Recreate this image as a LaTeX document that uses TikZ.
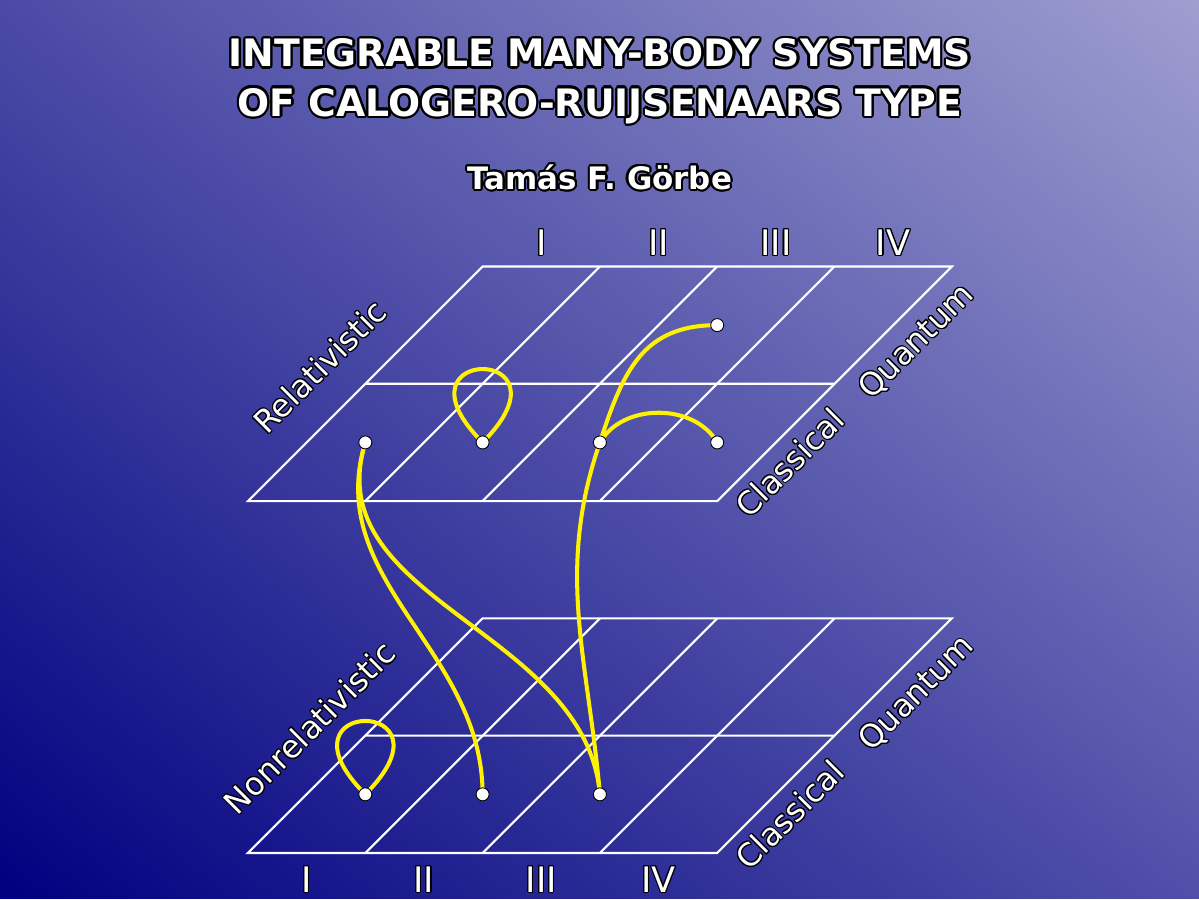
\documentclass[tikz,border=0pt]{standalone}
\usepackage{fontspec}
\setsansfont{DejaVu Sans}
\usepackage[copies]{contour}
\contourlength{0.6pt}
\usetikzlibrary{calc,shadings}

\definecolor{bgnavy}{RGB}{0,0,128}
\definecolor{bglav}{RGB}{158,158,208}
\definecolor{bgtl}{RGB}{75,75,166}
\definecolor{bgbr}{RGB}{80,80,170}

\tikzset{
  gridline/.style={white, line width=1.2pt},
  link/.style={yellow, line width=2.3pt},
  dot/.style={circle, draw=black, fill=white, line width=0.5pt, inner sep=0pt, minimum size=0.26cm},
  lbl/.style={text=white, font=\sffamily\fontsize{18}{20}\selectfont},
  numeral/.style={text=white, font=\sffamily\fontsize{20}{22}\selectfont},
}

\begin{document}
\begin{tikzpicture}[x=2.346cm, y=2.346cm]
            % background
            \shade[lower left=bgnavy, upper right=bglav, upper left=bgtl, lower right=bgbr]
                (-2.1143,-0.3922) rectangle (8.1074,7.2718);

            % title
            \node[text=white, align=center, font=\sffamily\bfseries\fontsize{21.5}{28}\selectfont] (title) at (3.0,6.57)
                {\contourlength{1.3pt}\contour{black}{INTEGRABLE MANY-BODY SYSTEMS}\\
                 \contourlength{1.3pt}\contour{black}{OF CALOGERO-RUIJSENAARS TYPE}};
            \node[text=white, font=\sffamily\bfseries\fontsize{17.6}{20}\selectfont] (author) at (3.0,5.754)
                {\contourlength{1.2pt}\contour{black}{Tamás F. Görbe}};

            % nonrelativistic plane
            \begin{scope}[cm={1,0,1,1,(0,0)}]
                \draw[gridline] (0,0) rectangle (4,2) (0,1) -- (4,1);
                \foreach \i in {1,2,3}
                    \draw[gridline] (\i,0) -- (\i,2);
                \coordinate (lI) at (0.5,0.5);
                \coordinate (lII) at (1.5,0.5);
                \coordinate (lIII) at (2.5,0.5);
            \end{scope}

            % relativistic plane
            \begin{scope}[shift={(0,3)}, cm={1,0,1,1,(0,0)}]
                \draw[gridline] (0,0) rectangle (4,2) (0,1) -- (4,1);
                \foreach \i in {1,2,3}
                    \draw[gridline] (\i,0) -- (\i,2);
                \coordinate (uI) at (0.5,0.5);
                \coordinate (uII) at (1.5,0.5);
                \coordinate (uIII) at (2.5,0.5);
                \coordinate (uIV) at (3.5,0.5);
                \coordinate (uIIIq) at (2.5,1.5);
            \end{scope}

            % labels
            \foreach \r [count=\k] in {I,II,III,IV} {
                \node[numeral] (top\k) at (\k+1.5,5.2) {\contour{black}{\r}};
                \node[numeral] (bot\k) at (\k-0.5,-0.23) {\contour{black}{\r}};
            }
            \node[lbl, rotate=45] (rel) at (0.614,4.143) {\contour{black}{Relativistic}};
            \node[lbl, rotate=45] (nonrel) at (0.529,1.066) {\contour{black}{Nonrelativistic}};
            \node[lbl, rotate=45] (uquant) at (5.703,4.356) {\contour{black}{Quantum}};
            \node[lbl, rotate=45] (uclass) at (4.621,3.325) {\contour{black}{Classical}};
            \node[lbl, rotate=45] (lquant) at (5.703,1.356) {\contour{black}{Quantum}};
            \node[lbl, rotate=45] (lclass) at (4.621,0.324) {\contour{black}{Classical}};

            % links
            \draw[link] (uII) .. controls +(45:1.18) and +(135:1.18) .. (uII);
            \draw[link] (lI) .. controls +(45:1.18) and +(135:1.18) .. (lI);
            \draw[link] (uI) to[out=-107, in=90] (lII);
            \draw[link] (uI) to[out=-107, in=95] (lIII);
            \draw[link] (lIII) to[out=95, in=-109] (uIII) to[out=72, in=180, looseness=1.15] (uIIIq);
            \draw[link] (uIII) to[out=60, in=120] (uIV);

            \foreach \p in {uI,uII,uIII,uIV,uIIIq,lI,lII,lIII}
                \node[dot] (\p-dot) at (\p) {};
\end{tikzpicture}
\end{document}
